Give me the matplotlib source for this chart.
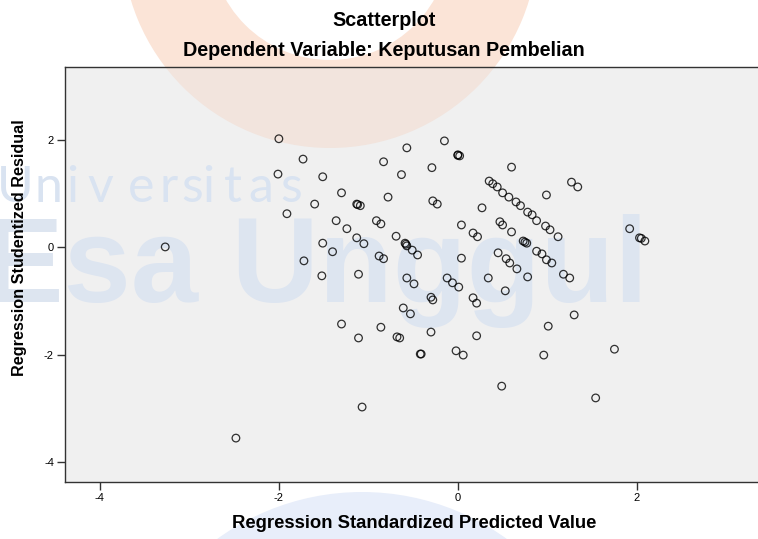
import matplotlib
matplotlib.use("Agg")
import matplotlib.pyplot as plt
from matplotlib.patches import Wedge, Circle
from matplotlib.transforms import IdentityTransform

plt.rcParams['font.family'] = ['Liberation Sans', 'DejaVu Sans']
plt.rcParams['axes.unicode_minus'] = False

# Regression Standardized Predicted Value
pred = [-3.27, -2.48, -2.00, -2.01, -1.91, -1.73, -1.51, -1.30, -1.60, -1.13,
        -1.09, -0.83, -0.57, -0.63, -0.78, -1.36, -1.24, -0.91, -0.86, -1.13,
        -1.05, -1.51, -1.40, -1.72, -0.69, -0.59, -0.57, -0.51, -0.45, -0.88,
        -0.83, -1.52, -1.11, -0.57, -0.49, -0.61, -0.53, -1.30, -0.86, -1.11,
        -0.68, -0.65, -1.07, -0.15, 0.00, 0.02, -0.29, 0.60, 0.35, 0.39,
        0.44, 0.50, 0.57, 0.65, 0.70, 0.78, 0.83, 0.88, 0.98, 1.03,
        1.12, 0.99, 1.27, 1.34, 0.27, -0.28, -0.23, 0.04, 0.17, 0.22,
        0.47, 0.50, 0.60, 0.73, 0.77, 1.92, 2.03, 2.09, 0.04, 0.45,
        0.54, 0.58, 0.88, 0.94, 0.99, 1.05, 0.66, 0.34, 0.78, 1.18,
        1.25, -0.12, -0.06, 0.01, 0.53, -0.30, -0.28, 0.17, 0.21, 1.30,
        1.01, 0.21, -0.30, -0.41, -0.02, 0.06, 0.96, 1.75, 0.49, 1.54,
        -0.58, 0.75, 2.05, 0.00, -1.12, -0.42]

# Regression Studentized Residual
resid = [0.01, -3.56, 2.03, 1.37, 0.63, 1.65, 1.32, 1.02, 0.81, 0.81,
         0.78, 1.60, 1.86, 1.36, 0.94, 0.50, 0.35, 0.50, 0.44, 0.18,
         0.07, 0.08, -0.08, -0.25, 0.21, 0.08, 0.03, -0.05, -0.14, -0.16,
         -0.21, -0.53, -0.50, -0.57, -0.68, -1.13, -1.24, -1.43, -1.49, -1.69,
         -1.67, -1.69, -2.98, 1.99, 1.73, 1.71, 1.49, 1.50, 1.24, 1.19,
         1.13, 1.02, 0.94, 0.85, 0.78, 0.66, 0.61, 0.50, 0.40, 0.33,
         0.20, 0.98, 1.22, 1.13, 0.74, 0.87, 0.81, 0.42, 0.27, 0.20,
         0.48, 0.42, 0.29, 0.12, 0.08, 0.35, 0.18, 0.12, -0.20, -0.10,
         -0.21, -0.29, -0.07, -0.12, -0.23, -0.29, -0.40, -0.57, -0.55, -0.50,
         -0.57, -0.57, -0.66, -0.74, -0.81, -0.93, -0.98, -0.94, -1.04, -1.26,
         -1.47, -1.65, -1.58, -1.99, -1.93, -2.01, -2.01, -1.90, -2.59, -2.81,
         0.06, 0.10, 0.17, 1.72, 0.80, -1.99]

x_ticks = [-4, -2, 0, 2]
y_ticks = [-4, -2, 0, 2]

W, H = 758, 539
fig = plt.figure(figsize=(W / 100, H / 100), dpi=100)
ax = fig.add_axes([65 / W, 57 / H, (763 - 65) / W, 415 / H])
ax.set_facecolor('#f0f0f0')

# watermark (logo behind the chart)
ring_out = Wedge((330, H + 60), 208, 0, 360, width=88, transform=IdentityTransform(),
                 facecolor='#fbe4d7', edgecolor='none', zorder=-2)
fig.patches.append(ring_out)
bottom_circle = Circle((362, H - 739), 247, transform=IdentityTransform(),
                       facecolor='#e8eefa', edgecolor='none', zorder=-2)
fig.patches.append(bottom_circle)
ring_in = Wedge((330, H + 60), 208, 0, 360, width=88, transform=IdentityTransform(),
                facecolor='#f2e4dd', edgecolor='none', zorder=0.3)
ax.add_patch(ring_in)

ax.text(-17 / W, 1 - 302 / H, 'Esa Unggul', transform=fig.transFigure, fontsize=87,
        fontweight='bold', color='#dde5f0', ha='left', va='baseline', clip_on=False, zorder=0.5)
letters = list('Universitas')
letter_x = [15, 48, 72, 100, 141, 169, 192, 208, 233, 261, 291]
for ch, lx in zip(letters, letter_x):
    ax.text(lx / W, 1 - 202 / H, ch, transform=fig.transFigure, fontsize=36,
            family=['Lato', 'DejaVu Sans'], fontweight='normal', color='#d9e3f1',
            ha='center', va='baseline', clip_on=False, zorder=0.5)

ax.scatter(pred, resid, s=30, facecolors='none', edgecolors='black', linewidths=0.9,
           alpha=0.8, zorder=3)

ax.set_xlim(-4.39, 3.41)
ax.set_ylim(-4.38, 3.37)
ax.set_xticks(x_ticks)
ax.set_yticks(y_ticks)
ax.tick_params(direction='out', length=6, width=1, color='#333333', labelsize=8, pad=2)
for side in ['left', 'bottom', 'top']:
    ax.spines[side].set_color('#333333')
    ax.spines[side].set_linewidth(1)
ax.spines['right'].set_visible(False)

ax.set_xlabel('Regression Standardized Predicted Value', fontsize=13.3, fontweight='bold', va='center')
ax.set_ylabel('Regression Studentized Residual', fontsize=11.7, fontweight='bold', va='center')
ax.xaxis.set_label_coords((414 - 65) / 698, (482 - 523) / 415)
ax.yaxis.set_label_coords((20 - 65) / 698, (482 - 248) / 415)

fig.text(384 / W, 1 - 20 / H, 'Scatterplot', ha='center', va='center', fontsize=14.2, fontweight='bold')
fig.text(384 / W, 1 - 50 / H, 'Dependent Variable: Keputusan Pembelian', ha='center', va='center',
         fontsize=14.2, fontweight='bold')

fig.savefig('out.png', dpi=100)
